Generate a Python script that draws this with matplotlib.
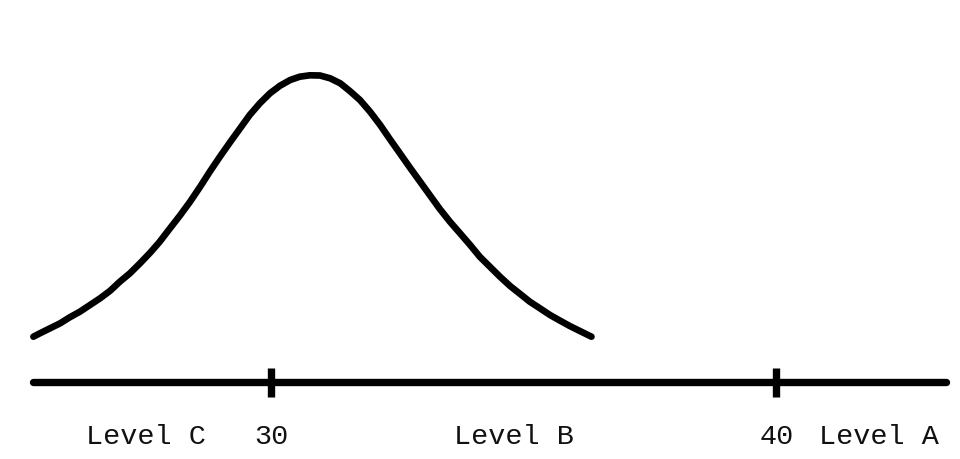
import matplotlib
matplotlib.use("Agg")
import matplotlib.pyplot as plt

# bell curve (x in score units, y in relative height)
curve_x = [25.30, 25.43, 25.63, 25.83, 26.02, 26.22, 26.42, 26.62, 26.82, 27.01,
           27.21, 27.41, 27.61, 27.80, 28.00, 28.20, 28.40, 28.60, 28.79, 28.99,
           29.19, 29.39, 29.58, 29.78, 29.98, 30.18, 30.38, 30.57, 30.77, 30.97,
           31.17, 31.37, 31.56, 31.76, 31.96, 32.16, 32.35, 32.55, 32.75, 32.95,
           33.15, 33.34, 33.54, 33.74, 33.94, 34.13, 34.33, 34.53, 34.73, 34.93,
           35.12, 35.32, 35.52, 35.72, 35.91, 36.11, 36.34]
curve_y = [0.448, 0.482, 0.532, 0.582, 0.642, 0.698, 0.765, 0.832, 0.908, 0.998,
           1.082, 1.182, 1.288, 1.398, 1.530, 1.660, 1.798, 1.948, 2.098, 2.248,
           2.392, 2.532, 2.665, 2.782, 2.882, 2.958, 3.015, 3.048, 3.062, 3.060,
           3.032, 2.982, 2.905, 2.815, 2.698, 2.565, 2.425, 2.282, 2.138, 1.998,
           1.858, 1.725, 1.598, 1.482, 1.365, 1.248, 1.148, 1.048, 0.955, 0.875,
           0.798, 0.732, 0.665, 0.608, 0.555, 0.505, 0.448]

# axis and labels
axis_start, axis_end = 25.29, 43.36
tick_vals = [30, 40]
label_text = ["Level C", "30", "Level B", "40", "Level A"]
label_x = [27.53, 30.0, 34.81, 40.0, 42.03]

fig = plt.figure(figsize=(9.6, 4.59), dpi=100)
ax = fig.add_axes([0, 0, 1, 1])
ax.set_xlim(24.64, 43.63)
ax.set_ylim(-0.775, 3.815)
ax.axis("off")

ax.plot(curve_x, curve_y, color="black", lw=4.8, solid_capstyle="round",
        solid_joinstyle="round")

ax.plot([axis_start, axis_end], [0, 0], color="black", lw=5.3,
        solid_capstyle="round")
for t in tick_vals:
    ax.plot([t, t], [0.135, -0.155], color="black", lw=5.3, solid_capstyle="butt")

for txt, x in zip(label_text, label_x):
    ax.text(x, -0.625, txt, ha="center", va="baseline", fontsize=20.5,
            family="Liberation Mono", color="#111111")

fig.savefig("out.png", dpi=100)
